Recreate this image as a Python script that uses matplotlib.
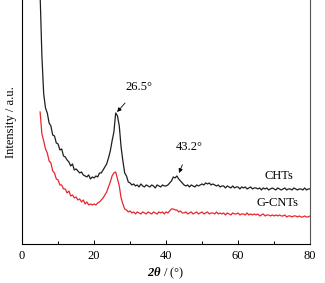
import numpy as np
import matplotlib
matplotlib.use('Agg')
import matplotlib.pyplot as plt

plt.rcParams['font.family'] = 'Liberation Serif'
plt.rcParams['mathtext.fontset'] = 'custom'
plt.rcParams['mathtext.bf'] = 'Liberation Serif:bold:italic'
plt.rcParams['mathtext.rm'] = 'Liberation Serif'

# 2theta grid (deg) and intensities (a.u.)
two_theta = np.arange(5, 80.5, 0.5)

chts = [250, 188, 150, 136, 131, 121, 118, 109, 108, 101,
        100, 94, 95, 88, 87, 84, 82, 78, 80, 74,
        75, 73, 71, 72, 69, 68, 67, 69, 65, 67,
        66, 68, 67, 71, 71, 74, 77, 80, 86, 93,
        103, 112, 131, 128, 118, 97, 83, 71, 68, 62,
        61, 59, 60, 58, 59, 57, 60, 58, 57, 59,
        58, 57, 59, 58, 56, 59, 58, 57, 59, 58,
        58, 59, 61, 63, 67, 66, 68, 65, 63, 61,
        59, 58, 59, 57, 59, 58, 57, 59, 58, 59,
        60, 59, 61, 60, 61, 59, 60, 59, 58, 59,
        57, 58, 58, 56, 58, 57, 56, 58, 56, 57,
        57, 55, 57, 56, 57, 55, 56, 57, 55, 56,
        56, 55, 56, 54, 56, 55, 56, 54, 55, 56,
        55, 54, 56, 55, 54, 55, 56, 54, 55, 55,
        54, 56, 55, 54, 55, 55, 54, 56, 54, 55,
        55]

gcnts = [132, 110, 103, 95, 91, 83, 81, 73, 71, 65,
         64, 59, 59, 55, 55, 51, 53, 48, 49, 46,
         47, 44, 45, 42, 44, 40, 42, 39, 40, 39,
         40, 39, 41, 42, 44, 46, 49, 52, 57, 62,
         68, 71, 72, 65, 58, 46, 40, 35, 34, 32,
         33, 31, 32, 30, 32, 31, 30, 32, 31, 30,
         32, 31, 30, 32, 31, 30, 32, 31, 32, 30,
         32, 31, 33, 35, 35, 34, 34, 32, 33, 31,
         31, 32, 30, 31, 32, 30, 31, 32, 30, 31,
         32, 30, 31, 32, 30, 31, 31, 30, 32, 30,
         31, 30, 31, 29, 31, 30, 29, 31, 30, 30,
         31, 29, 30, 30, 29, 31, 29, 30, 29, 30,
         29, 30, 28, 29, 30, 28, 29, 29, 28, 29,
         28, 29, 28, 29, 28, 28, 29, 27, 28, 28,
         27, 28, 28, 27, 28, 27, 27, 28, 27, 27,
         28]

fig = plt.figure(figsize=(3.25, 2.83), dpi=100)
ax = fig.add_axes([0.068, 0.138, 0.886, 0.862])

ax.plot(two_theta, chts, color='#1e1e1e', lw=0.9)
ax.plot(two_theta, gcnts, color='#e8262c', lw=0.9)

ax.set_xlim(0, 80)
ax.set_ylim(0, 244)
ax.set_xticks([0, 20, 40, 60, 80])
ax.set_xticks([10, 30, 50, 70], minor=True)
ax.set_yticks([])
ax.tick_params(axis='x', direction='in', length=3, width=0.7, labelsize=9, pad=4)
ax.tick_params(axis='x', which='minor', direction='in', length=2, width=0.7)
ax.spines['top'].set_visible(False)
ax.spines['right'].set_color('#555555')
for s in ['left', 'bottom', 'right']:
    ax.spines[s].set_linewidth(0.8)

ax.set_xlabel(r'$\mathbf{2\theta}$ / (°)', fontsize=9, labelpad=3)
ax.set_ylabel('Intensity / a.u.', fontsize=9, labelpad=4)

ax.annotate('26.5°', xy=(26.4, 132), xytext=(28.8, 157), fontsize=9,
            va='center', ha='left',
            arrowprops=dict(arrowstyle='-|>', color='black', lw=0.6,
                            mutation_scale=6, shrinkA=7, shrinkB=0))
ax.annotate('43.2°', xy=(43.6, 71), xytext=(42.8, 97), fontsize=9,
            va='center', ha='left',
            arrowprops=dict(arrowstyle='-|>', color='black', lw=0.6,
                            mutation_scale=6, shrinkA=7, shrinkB=0))
ax.text(75.3, 68, 'CHTs', fontsize=9, ha='right', va='center')
ax.text(76.9, 41, 'G-CNTs', fontsize=9, ha='right', va='center')

fig.savefig('out.png', dpi=100)
